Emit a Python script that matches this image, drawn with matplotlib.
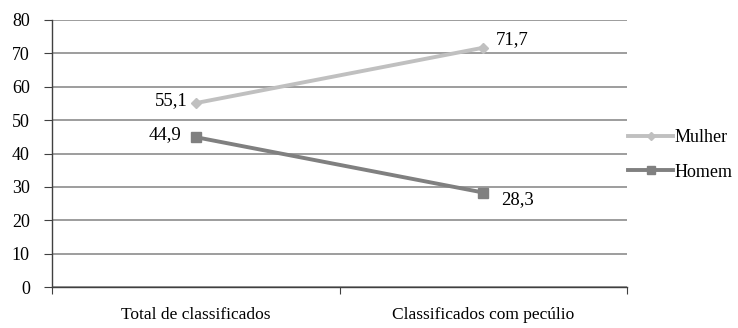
import matplotlib
matplotlib.use("Agg")
import matplotlib.pyplot as plt
from matplotlib.ticker import FixedLocator, NullFormatter

categories = ["Total de classificados", "Classificados com pecúlio"]
mulher = [55.1, 71.7]
homem = [44.9, 28.3]
series_names = ["Mulher", "Homem"]
y_ticks = [0, 10, 20, 30, 40, 50, 60, 70, 80]

plt.rcParams["font.family"] = ["Liberation Serif", "DejaVu Serif"]

fig = plt.figure(figsize=(7.38, 3.28), dpi=100)
ax = fig.add_axes([52 / 738, 1 - 287 / 328, 575 / 738, 267 / 328])

x = [0.5, 1.5]
ax.plot(x, mulher, color="#c0c0c0", lw=2.8, marker="D", ms=5, label=series_names[0], zorder=3)
ax.plot(x, homem, color="#808080", lw=2.8, marker="s", ms=7, label=series_names[1], zorder=3)

def fmt(v):
    return f"{v:.1f}".replace(".", ",")

label_kw = dict(textcoords="offset points", va="center", fontsize=13.5)
ax.annotate(fmt(mulher[0]), (x[0], mulher[0]), xytext=(-6, 2), ha="right", **label_kw)
ax.annotate(fmt(homem[0]), (x[0], homem[0]), xytext=(-10, 2), ha="right", **label_kw)
ax.annotate(fmt(mulher[1]), (x[1], mulher[1]), xytext=(9, 6), ha="left", **label_kw)
ax.annotate(fmt(homem[1]), (x[1], homem[1]), xytext=(13, -5), ha="left", **label_kw)

ax.set_xlim(0, 2)
ax.set_ylim(0, 80)
ax.set_yticks(y_ticks)
ax.set_yticklabels([str(t) for t in y_ticks], fontsize=13)
ax.yaxis.grid(True, color="#8c8c8c", lw=1.2)
ax.set_axisbelow(True)

ax.xaxis.set_major_locator(FixedLocator([0, 1, 2]))
ax.xaxis.set_major_formatter(NullFormatter())
ax.xaxis.set_minor_locator(FixedLocator(x))
ax.set_xticklabels(categories, minor=True, fontsize=12.5)
ax.tick_params(axis="x", which="minor", length=0, pad=14.5)
ax.tick_params(axis="x", which="major", length=5, color="#404040")
ax.tick_params(axis="y", length=6, color="#404040", pad=10)

for side in ["top", "right"]:
    ax.spines[side].set_visible(False)
for side in ["left", "bottom"]:
    ax.spines[side].set_color("#404040")
    ax.spines[side].set_linewidth(1.0)

leg = fig.legend(loc="center left", bbox_to_anchor=(628 / 738, 1 - 155 / 328), frameon=False,
                 fontsize=13, handlelength=2.5, handletextpad=0.05, labelspacing=0.95,
                 borderaxespad=0, borderpad=0, markerscale=0.8)

fig.savefig("out.png", dpi=100)
